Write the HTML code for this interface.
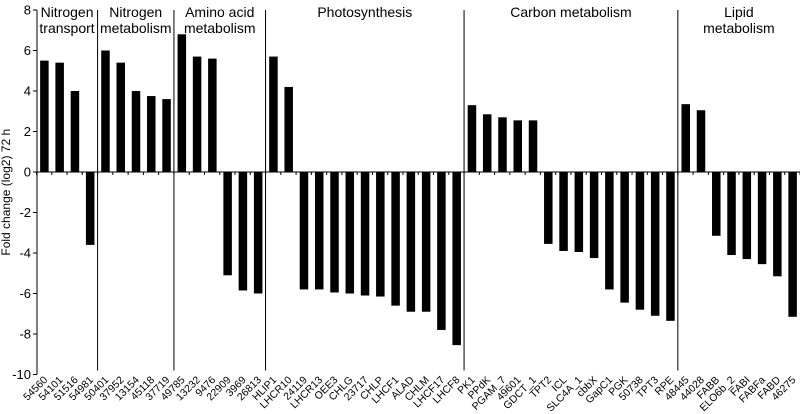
<!DOCTYPE html>
<html><head><meta charset="utf-8"><style>
body{margin:0;background:#fff;}
svg{display:block;font-family:"Liberation Sans",Arial,sans-serif;}
</style></head><body>
<svg id="chart" width="800" height="414"></svg>
<script>
const categories=["54560","54101","51516","54981","50401","37952","13154","45118","37719","49785","13232","9476","22909","3969","26813","HLIP1","LHCR10","24119","LHCR13","OEE3","CHLG","23717","CHLP","LHCF1","ALAD","CHLM","LHCF17","LHCF8","PK1","PPdK","PGAM_7","49601","GDCT_1","TPT2","ICL","SLC4A_1","cbbX","GapC1","PGK","50738","TPT3","RPE","48445","44028","FABB","ELO6b_2","FABI","FABFa","FABD","46275"];
const values=[5.5,5.4,4.0,-3.6,6.0,5.4,4.0,3.75,3.6,6.8,5.7,5.6,-5.1,-5.85,-6.0,5.7,4.2,-5.8,-5.8,-5.95,-6.0,-6.1,-6.15,-6.6,-6.9,-6.9,-7.8,-8.55,3.3,2.85,2.7,2.55,2.55,-3.55,-3.9,-3.95,-4.25,-5.8,-6.45,-6.8,-7.1,-7.35,3.35,3.05,-3.15,-4.1,-4.3,-4.55,-5.15,-7.15];
const groupNames=[["Nitrogen","transport"],["Nitrogen","metabolism"],["Amino acid","metabolism"],["Photosynthesis"],["Carbon metabolism"],["Lipid","metabolism"]];
const groupSizes=[4,5,6,13,14,8];
const yTicks=[8,6,4,2,0,-2,-4,-6,-8,-10];

const svg=document.getElementById('chart');
const NS="http://www.w3.org/2000/svg";
const x0=36.5, slot=15.27, yTop=10, yBot=374.5, vMax=8, vMin=-10;
const yS=v=>yTop+(vMax-v)*(yBot-yTop)/(vMax-vMin);
const xS=i=>x0+slot*(i+0.5);
function mk(tag,attrs,parent){const e=document.createElementNS(NS,tag);for(const k in attrs)e.setAttribute(k,attrs[k]);(parent||svg).appendChild(e);return e;}

// y axis
let ax=mk('line',{x1:37,y1:yS(8),x2:37,y2:yS(-10),stroke:'#000','stroke-width':1});


yTicks.forEach(t=>{
  const tk=mk('line',{x1:33,x2:37,y1:yS(t),y2:yS(t),stroke:'#000'});
  
  
  const tl=mk('text',{x:31,y:yS(t)+4.5,'text-anchor':'end','font-size':13});
  tl.textContent=t;
  
  
});
const yt=mk('text',{x:0,y:0,'text-anchor':'middle','font-size':12,transform:`translate(10,${(yS(8)+yS(-10))/2}) rotate(-90)`});
yt.textContent='Fold change (log2) 72 h';



// zero line
const zl=mk('line',{x1:37,x2:800,y1:yS(0),y2:yS(0),stroke:'#000'});


for(let i=0;i<=categories.length;i++){
  const tk=mk('line',{x1:x0+slot*i,x2:x0+slot*i,y1:yS(0),y2:yS(0)+3,stroke:'#000'});
  
  
}

// bars & labels
values.forEach((v,i)=>{
  const y1=yS(Math.max(v,0)),y2=yS(Math.min(v,0));
  const b=mk('rect',{x:xS(i)-4,y:y1,width:8.5,height:y2-y1,fill:'#000'});
  
  
  const lx=xS(i)+4, ly=yS(-10)+6;
  const l=mk('text',{x:lx,y:ly,'text-anchor':'end','font-size':10.5,transform:`rotate(-45 ${lx} ${ly})`});
  l.textContent=categories[i];
  
  
});

// groups
let start=0;
groupSizes.forEach((n,g)=>{
  const cx=x0+slot*(start+n/2);
  const lines=groupNames[g];
  lines.forEach((s,k)=>{
    const t=mk('text',{x:cx,y:17+k*16,'text-anchor':'middle','font-size':14});
    t.textContent=s;
    
    
  });
  start+=n;
  if(g<groupSizes.length-1){
    const sx=x0+slot*start;
    const sl=mk('line',{x1:sx,x2:sx,y1:yS(8),y2:yS(-10)-4,stroke:'#000'});
    
    
  }
});
</script>
</body></html>
